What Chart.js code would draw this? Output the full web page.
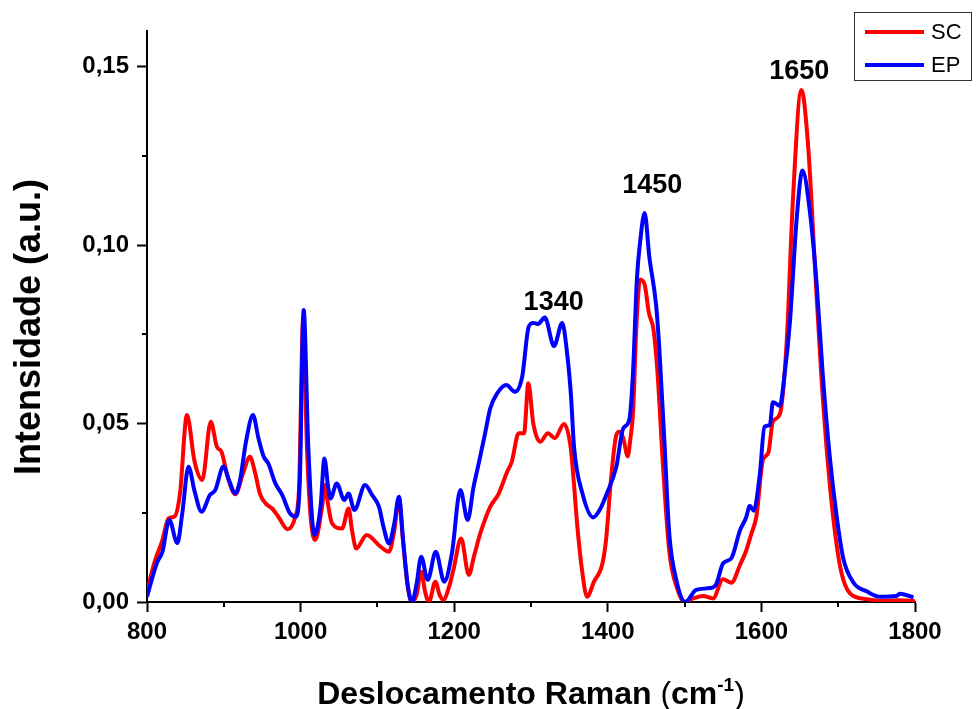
<!DOCTYPE html>
<html>
<head>
<meta charset="utf-8">
<title>Espectro Raman SC x EP</title>
<script src="https://cdn.jsdelivr.net/npm/chart.js@4.4.1/dist/chart.umd.min.js"></script>
<style>
  body { margin: 0; background: #fff; }
  canvas { display: block; }
</style>
</head>
<body>
<canvas id="ramanChart" width="976" height="709"></canvas>
<script>
// Dados (deslocamento Raman em cm-1, intensidade em u.a.)
const scShift = [800, 810, 820, 828, 836, 843, 852, 862, 872, 883, 891, 897, 905, 915, 925, 934, 941, 947, 955, 963, 971, 983, 993, 998, 1003.5, 1008, 1013, 1019, 1028, 1032, 1036, 1041, 1054, 1062.5, 1067, 1072.5, 1086, 1104, 1115, 1122, 1128, 1133, 1139, 1145, 1151, 1157, 1162, 1167, 1175.5, 1181, 1186, 1193, 1199, 1209, 1219, 1226, 1234, 1247, 1258, 1269, 1275, 1284, 1291, 1296.5, 1303, 1312, 1322, 1331, 1343, 1351.5, 1356, 1360, 1367, 1373, 1382, 1393, 1398, 1404, 1411, 1415, 1420, 1426, 1429, 1433, 1437, 1442, 1448, 1453.5, 1459.6, 1465, 1471.7, 1480, 1491, 1500, 1511, 1524, 1537, 1550, 1561, 1572, 1580, 1587, 1593.5, 1602, 1609, 1615, 1624, 1633, 1641, 1652, 1661, 1670, 1678, 1687, 1696, 1704, 1715, 1737, 1760, 1780, 1800];
const scIntensity = [0.003, 0.0113, 0.0173, 0.0234, 0.024, 0.0305, 0.0524, 0.0393, 0.0342, 0.0505, 0.0435, 0.0421, 0.0351, 0.0302, 0.036, 0.0407, 0.036, 0.0304, 0.0275, 0.0262, 0.0239, 0.0204, 0.0239, 0.032, 0.080, 0.045, 0.024, 0.0174, 0.0267, 0.0328, 0.027, 0.022, 0.0206, 0.0262, 0.020, 0.015, 0.0188, 0.0155, 0.0141, 0.020, 0.0291, 0.018, 0.005, 0.0, 0.002, 0.0085, 0.003, 0.0, 0.0057, 0.002, 0.0006, 0.004, 0.009, 0.0178, 0.0076, 0.013, 0.0192, 0.0267, 0.0304, 0.0365, 0.0393, 0.0473, 0.0473, 0.0613, 0.050, 0.0449, 0.0473, 0.0459, 0.0499, 0.0435, 0.033, 0.022, 0.008, 0.0015, 0.0057, 0.0108, 0.018, 0.034, 0.0467, 0.0477, 0.046, 0.0408, 0.045, 0.0536, 0.0762, 0.0904, 0.0889, 0.081, 0.0762, 0.0634, 0.0388, 0.0143, 0.0034, 0.0, 0.001, 0.0017, 0.001, 0.0064, 0.0054, 0.0103, 0.0143, 0.0192, 0.024, 0.0398, 0.0418, 0.0506, 0.0526, 0.0732, 0.1125, 0.1435, 0.1273, 0.0929, 0.0634, 0.0378, 0.0192, 0.0084, 0.0025, 0.0008, 0.0003, 0.0005, 0.0002];

const epShift = [800, 813, 820, 829, 839.5, 846, 854, 862, 871, 882, 889, 899.5, 907, 915, 921, 929, 938, 945, 952, 958, 967, 976, 986, 994, 999, 1004, 1010, 1018, 1026, 1031, 1036, 1039, 1047, 1057, 1062.5, 1070, 1084, 1093, 1102, 1108, 1115, 1122, 1128, 1134, 1140, 1145, 1151, 1157, 1165.5, 1176, 1187, 1197, 1208, 1217.6, 1225, 1232, 1240, 1247, 1256, 1268, 1279, 1288.5, 1297, 1303, 1309, 1318, 1330, 1340.6, 1347, 1352, 1356, 1367, 1381, 1390, 1398, 1411, 1420, 1428, 1432.6, 1438, 1442, 1448, 1454, 1463, 1467, 1474, 1480, 1489, 1501, 1515, 1533, 1541, 1550, 1561, 1572, 1580, 1585, 1590, 1598, 1604, 1611, 1615, 1624, 1630, 1637, 1646, 1653.5, 1663, 1672, 1680, 1689, 1698, 1706.5, 1720, 1737, 1754, 1776, 1780, 1798];
const epIntensity = [0.0015, 0.011, 0.014, 0.023, 0.0165, 0.025, 0.0379, 0.031, 0.0253, 0.030, 0.0314, 0.038, 0.034, 0.0304, 0.034, 0.045, 0.0524, 0.046, 0.0407, 0.0388, 0.0333, 0.030, 0.0249, 0.0239, 0.034, 0.0818, 0.0435, 0.0188, 0.0267, 0.0402, 0.032, 0.029, 0.0332, 0.0286, 0.0304, 0.0258, 0.0328, 0.030, 0.0267, 0.021, 0.0164, 0.022, 0.0295, 0.016, 0.004, 0.0, 0.005, 0.0127, 0.0062, 0.0141, 0.0057, 0.0136, 0.0314, 0.023, 0.032, 0.0389, 0.047, 0.0543, 0.0585, 0.0608, 0.0589, 0.0631, 0.0771, 0.0782, 0.0779, 0.0797, 0.0717, 0.0782, 0.0697, 0.058, 0.0435, 0.0304, 0.0237, 0.026, 0.030, 0.0378, 0.0486, 0.0511, 0.0634, 0.0909, 0.1007, 0.109, 0.0968, 0.083, 0.0713, 0.0437, 0.0192, 0.0064, 0.0, 0.0034, 0.0039, 0.0049, 0.0108, 0.0123, 0.020, 0.0236, 0.027, 0.0256, 0.0359, 0.0491, 0.0496, 0.056, 0.055, 0.0634, 0.0781, 0.1076, 0.1209, 0.1096, 0.0889, 0.0634, 0.0408, 0.024, 0.0123, 0.0054, 0.003, 0.0015, 0.0017, 0.0023, 0.0013];

// Ticks
const xTicks = [800, 1000, 1200, 1400, 1600, 1800];
const xMinorTicks = [900, 1100, 1300, 1500, 1700];
const yTicks = [0, 0.05, 0.10, 0.15];
const yMinorTicks = [0.025, 0.075, 0.125];

// Rótulos dos picos (texto, deslocamento, intensidade)
const peakLabels = ['1340', '1450', '1650'];
const peakShift = [1329.5, 1458, 1649.2];
const peakIntensity = [0.0838, 0.1168, 0.1487];

const seriesNames = ['SC', 'EP'];
const seriesColors = ['#ff0000', '#0000ff'];

function toPoints(xs, ys) {
    return xs.map((x, i) => ({ x: x, y: ys[i] }));
}

// Desenha ticks menores, títulos dos eixos, rótulos dos picos e legenda
const extrasPlugin = {
    id: 'extras',
    afterDraw(chart) {
        const ctx = chart.ctx;
        const xs = chart.scales.x;
        const ys = chart.scales.y;
        const area = chart.chartArea;
        ctx.save();
        ctx.strokeStyle = '#000';
        ctx.lineWidth = 2;
        xMinorTicks.forEach(v => {
            const px = Math.round(xs.getPixelForValue(v));
            ctx.beginPath();
            ctx.moveTo(px, area.bottom);
            ctx.lineTo(px, area.bottom + 5);
            ctx.stroke();
        });
        yMinorTicks.forEach(v => {
            const py = Math.round(ys.getPixelForValue(v));
            ctx.beginPath();
            ctx.moveTo(area.left, py);
            ctx.lineTo(area.left - 5, py);
            ctx.stroke();
        });

        // título do eixo y
        ctx.fillStyle = '#000';
        ctx.save();
        ctx.translate(30, 327);
        ctx.rotate(-Math.PI / 2);
        ctx.font = 'bold 36px "Liberation Sans", Arial, sans-serif';
        ctx.textAlign = 'center';
        ctx.textBaseline = 'middle';
        ctx.fillText('Intensidade (a.u.)', 0, 0);
        ctx.restore();

        // título do eixo x com sobrescrito
        const bold = 'bold 32px "Liberation Sans", Arial, sans-serif';
        const reg = '32px "Liberation Sans", Arial, sans-serif';
        const sup = 'bold 19px "Liberation Sans", Arial, sans-serif';
        const parts = [
            { t: 'Deslocamento Raman ', f: bold, dy: 0 },
            { t: '(', f: reg, dy: 0 },
            { t: 'cm', f: bold, dy: 0 },
            { t: '-1', f: sup, dy: -13 },
            { t: ')', f: reg, dy: 0 }
        ];
        let total = 0;
        parts.forEach(p => { ctx.font = p.f; p.w = ctx.measureText(p.t).width; total += p.w; });
        let cx = 531 - total / 2;
        const baseY = 704;
        ctx.textAlign = 'left';
        ctx.textBaseline = 'alphabetic';
        parts.forEach(p => {
            ctx.font = p.f;
            ctx.fillText(p.t, cx, baseY + p.dy);
            cx += p.w;
        });

        // rótulos dos picos
        ctx.font = 'bold 27px "Liberation Sans", Arial, sans-serif';
        ctx.textAlign = 'center';
        ctx.textBaseline = 'middle';
        peakLabels.forEach((txt, i) => {
            ctx.fillText(txt, xs.getPixelForValue(peakShift[i]), ys.getPixelForValue(peakIntensity[i]));
        });

        // legenda
        ctx.fillStyle = '#fff';
        ctx.fillRect(855, 13, 117, 68);
        ctx.strokeStyle = '#333';
        ctx.lineWidth = 1;
        ctx.strokeRect(854.5, 12.5, 117, 68);
        ctx.font = '22px "Liberation Sans", Arial, sans-serif';
        ctx.textAlign = 'left';
        ctx.textBaseline = 'middle';
        seriesNames.forEach((name, i) => {
            const ly = 32 + i * 33;
            ctx.strokeStyle = seriesColors[i];
            ctx.lineWidth = 4;
            ctx.beginPath();
            ctx.moveTo(865, ly);
            ctx.lineTo(924, ly);
            ctx.stroke();
            ctx.fillStyle = '#000';
            ctx.fillText(name, 931, ly + 1);
        });
        ctx.restore();
    }
};

const ctx = document.getElementById('ramanChart').getContext('2d');
const ramanChart = new Chart(ctx, {
    type: 'line',
    data: {
        datasets: [{
            label: seriesNames[0],
            data: toPoints(scShift, scIntensity),
            borderColor: seriesColors[0],
            borderWidth: 4,
            pointRadius: 0,
            cubicInterpolationMode: 'monotone',
            fill: false,
            order: 2
        }, {
            label: seriesNames[1],
            data: toPoints(epShift, epIntensity),
            borderColor: seriesColors[1],
            borderWidth: 4,
            pointRadius: 0,
            cubicInterpolationMode: 'monotone',
            fill: false,
            order: 1
        }]
    },
    options: {
        responsive: false,
        animation: false,
        devicePixelRatio: 1,
        layout: { padding: { top: 31, right: 61, left: 0, bottom: 0 } },
        plugins: {
            legend: { display: false },
            tooltip: { enabled: false }
        },
        scales: {
            x: {
                type: 'linear',
                min: 800,
                max: 1800,
                afterFit: s => { s.height = 107; },
                afterBuildTicks: s => { s.ticks = xTicks.map(v => ({ value: v })); },
                border: { display: true, color: '#000', width: 2 },
                grid: { drawOnChartArea: false, color: '#000', tickLength: 10, tickWidth: 2 },
                ticks: {
                    color: '#000',
                    padding: 6,
                    maxRotation: 0,
                    font: { family: '"Liberation Sans", Arial, sans-serif', size: 24, weight: 'bold' },
                    callback: v => String(v)
                }
            },
            y: {
                type: 'linear',
                min: 0,
                max: 0.16,
                afterFit: s => { s.width = 147; },
                afterBuildTicks: s => { s.ticks = yTicks.map(v => ({ value: v })); },
                border: { display: true, color: '#000', width: 2 },
                grid: { drawOnChartArea: false, color: '#000', tickLength: 10, tickWidth: 2 },
                ticks: {
                    color: '#000',
                    padding: 8,
                    font: { family: '"Liberation Sans", Arial, sans-serif', size: 24, weight: 'bold' },
                    callback: v => v.toFixed(2).replace('.', ',')
                }
            }
        }
    },
    plugins: [extrasPlugin]
});
</script>
</body>
</html>
